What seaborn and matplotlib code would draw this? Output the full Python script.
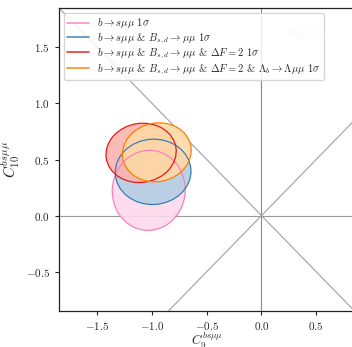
import numpy as np
import pandas as pd
import seaborn as sns
import matplotlib
matplotlib.use('Agg')
import matplotlib.pyplot as plt
from matplotlib.patches import Ellipse
from matplotlib.lines import Line2D
from matplotlib.ticker import FuncFormatter

# 1 sigma regions (centre, half widths, tilt in degrees)
labels = [r'$b\to s\mu\mu$ $1\sigma$',
          r'$b\to s\mu\mu$ & $B_{s,d}\to\mu\mu$ $1\sigma$',
          r'$b\to s\mu\mu$ & $B_{s,d}\to\mu\mu$ & $\Delta F=2$ $1\sigma$',
          r'$b\to s\mu\mu$ & $B_{s,d}\to\mu\mu$ & $\Delta F=2$ & $\Lambda_b\to\Lambda\mu\mu$ $1\sigma$']
c9_centre = [-1.03, -0.99, -1.10, -0.956]
c10_centre = [0.225, 0.39, 0.559, 0.564]
c9_halfwidth = [0.333, 0.346, 0.322, 0.316]
c10_halfwidth = [0.357, 0.291, 0.263, 0.261]
tilt = [-8, 3, 8, 10]
edge_cols = ['#f781bf', '#377eb8', '#e41a1c', '#ff7f00']
fill_cols = ['#fddaec', '#b3cde3', '#fbb4ae', '#fed9a6']

# reference lines C9 = 0, C10 = 0, C9 = +-C10
ref_x = [-2.0, 1.0]
diag_up = [-2.0, 1.0]
diag_down = [2.0, -1.0]

sns.set_style('ticks')
plt.rcParams['font.family'] = 'serif'
plt.rcParams['font.serif'] = ['cmr10', 'DejaVu Serif']
plt.rcParams['mathtext.fontset'] = 'cm'
plt.rcParams['axes.unicode_minus'] = False
plt.rcParams['axes.formatter.use_mathtext'] = True

fig = plt.figure(figsize=(3.52, 3.47), dpi=100)
ax = fig.add_axes([59/352, 36/347, 295.5/352, 303/347])

ax.axhline(0, color='#9a9a9a', lw=0.8, zorder=1)
ax.axvline(0, color='#8a8a8a', lw=0.8, zorder=1)
lines = pd.DataFrame({'x': ref_x * 2, 'y': diag_up + diag_down,
                      'which': ['up', 'up', 'down', 'down']})
sns.lineplot(data=lines, x='x', y='y', units='which', estimator=None,
             color='#a0a0a0', lw=0.8, ax=ax, zorder=1)

for i in range(len(labels)):
    e = Ellipse((c9_centre[i], c10_centre[i]), 2*c9_halfwidth[i], 2*c10_halfwidth[i],
                angle=tilt[i], facecolor=fill_cols[i], edgecolor='none', alpha=0.9, zorder=2+i)
    ax.add_patch(e)
for i in range(len(labels)):
    e = Ellipse((c9_centre[i], c10_centre[i]), 2*c9_halfwidth[i], 2*c10_halfwidth[i],
                angle=tilt[i], facecolor='none', edgecolor=edge_cols[i], lw=0.9, zorder=10)
    ax.add_patch(e)

ax.text(0.897, 0.935, 'flavio', transform=ax.transAxes, ha='right', va='top',
        family='DejaVu Sans', fontweight='bold', fontsize=8.5, color='#e4e4e4', zorder=3)

handles = [Line2D([], [], color=c, lw=1.3, alpha=0.8) for c in edge_cols]
leg = ax.legend(handles, labels, loc='upper left', fontsize=7.6, frameon=True,
                framealpha=0.85, edgecolor='#d0d0d0', handlelength=2.0,
                labelspacing=0.1, borderpad=0.3)
leg.set_zorder(20)

ax.set_xlim(-1.85, 0.85)
ax.set_ylim(-0.85, 1.85)
ax.set_xticks([-1.5, -1.0, -0.5, 0.0, 0.5])
ax.set_yticks([-0.5, 0.0, 0.5, 1.0, 1.5])
fmt = FuncFormatter(lambda v, p: r'$%.1f$' % v)
ax.xaxis.set_major_formatter(fmt)
ax.yaxis.set_major_formatter(fmt)
ax.tick_params(labelsize=8, length=3, width=0.8, direction='out')
for s in ax.spines.values():
    s.set_color('#222222')
    s.set_linewidth(0.9)

ax.set_xlabel(r'$C_9^{bs\mu\mu}$', fontsize=9.5, labelpad=-1)
ax.set_ylabel(r'$C_{10}^{bs\mu\mu}$', fontsize=11, labelpad=2)

plt.savefig('out.png', dpi=100)
